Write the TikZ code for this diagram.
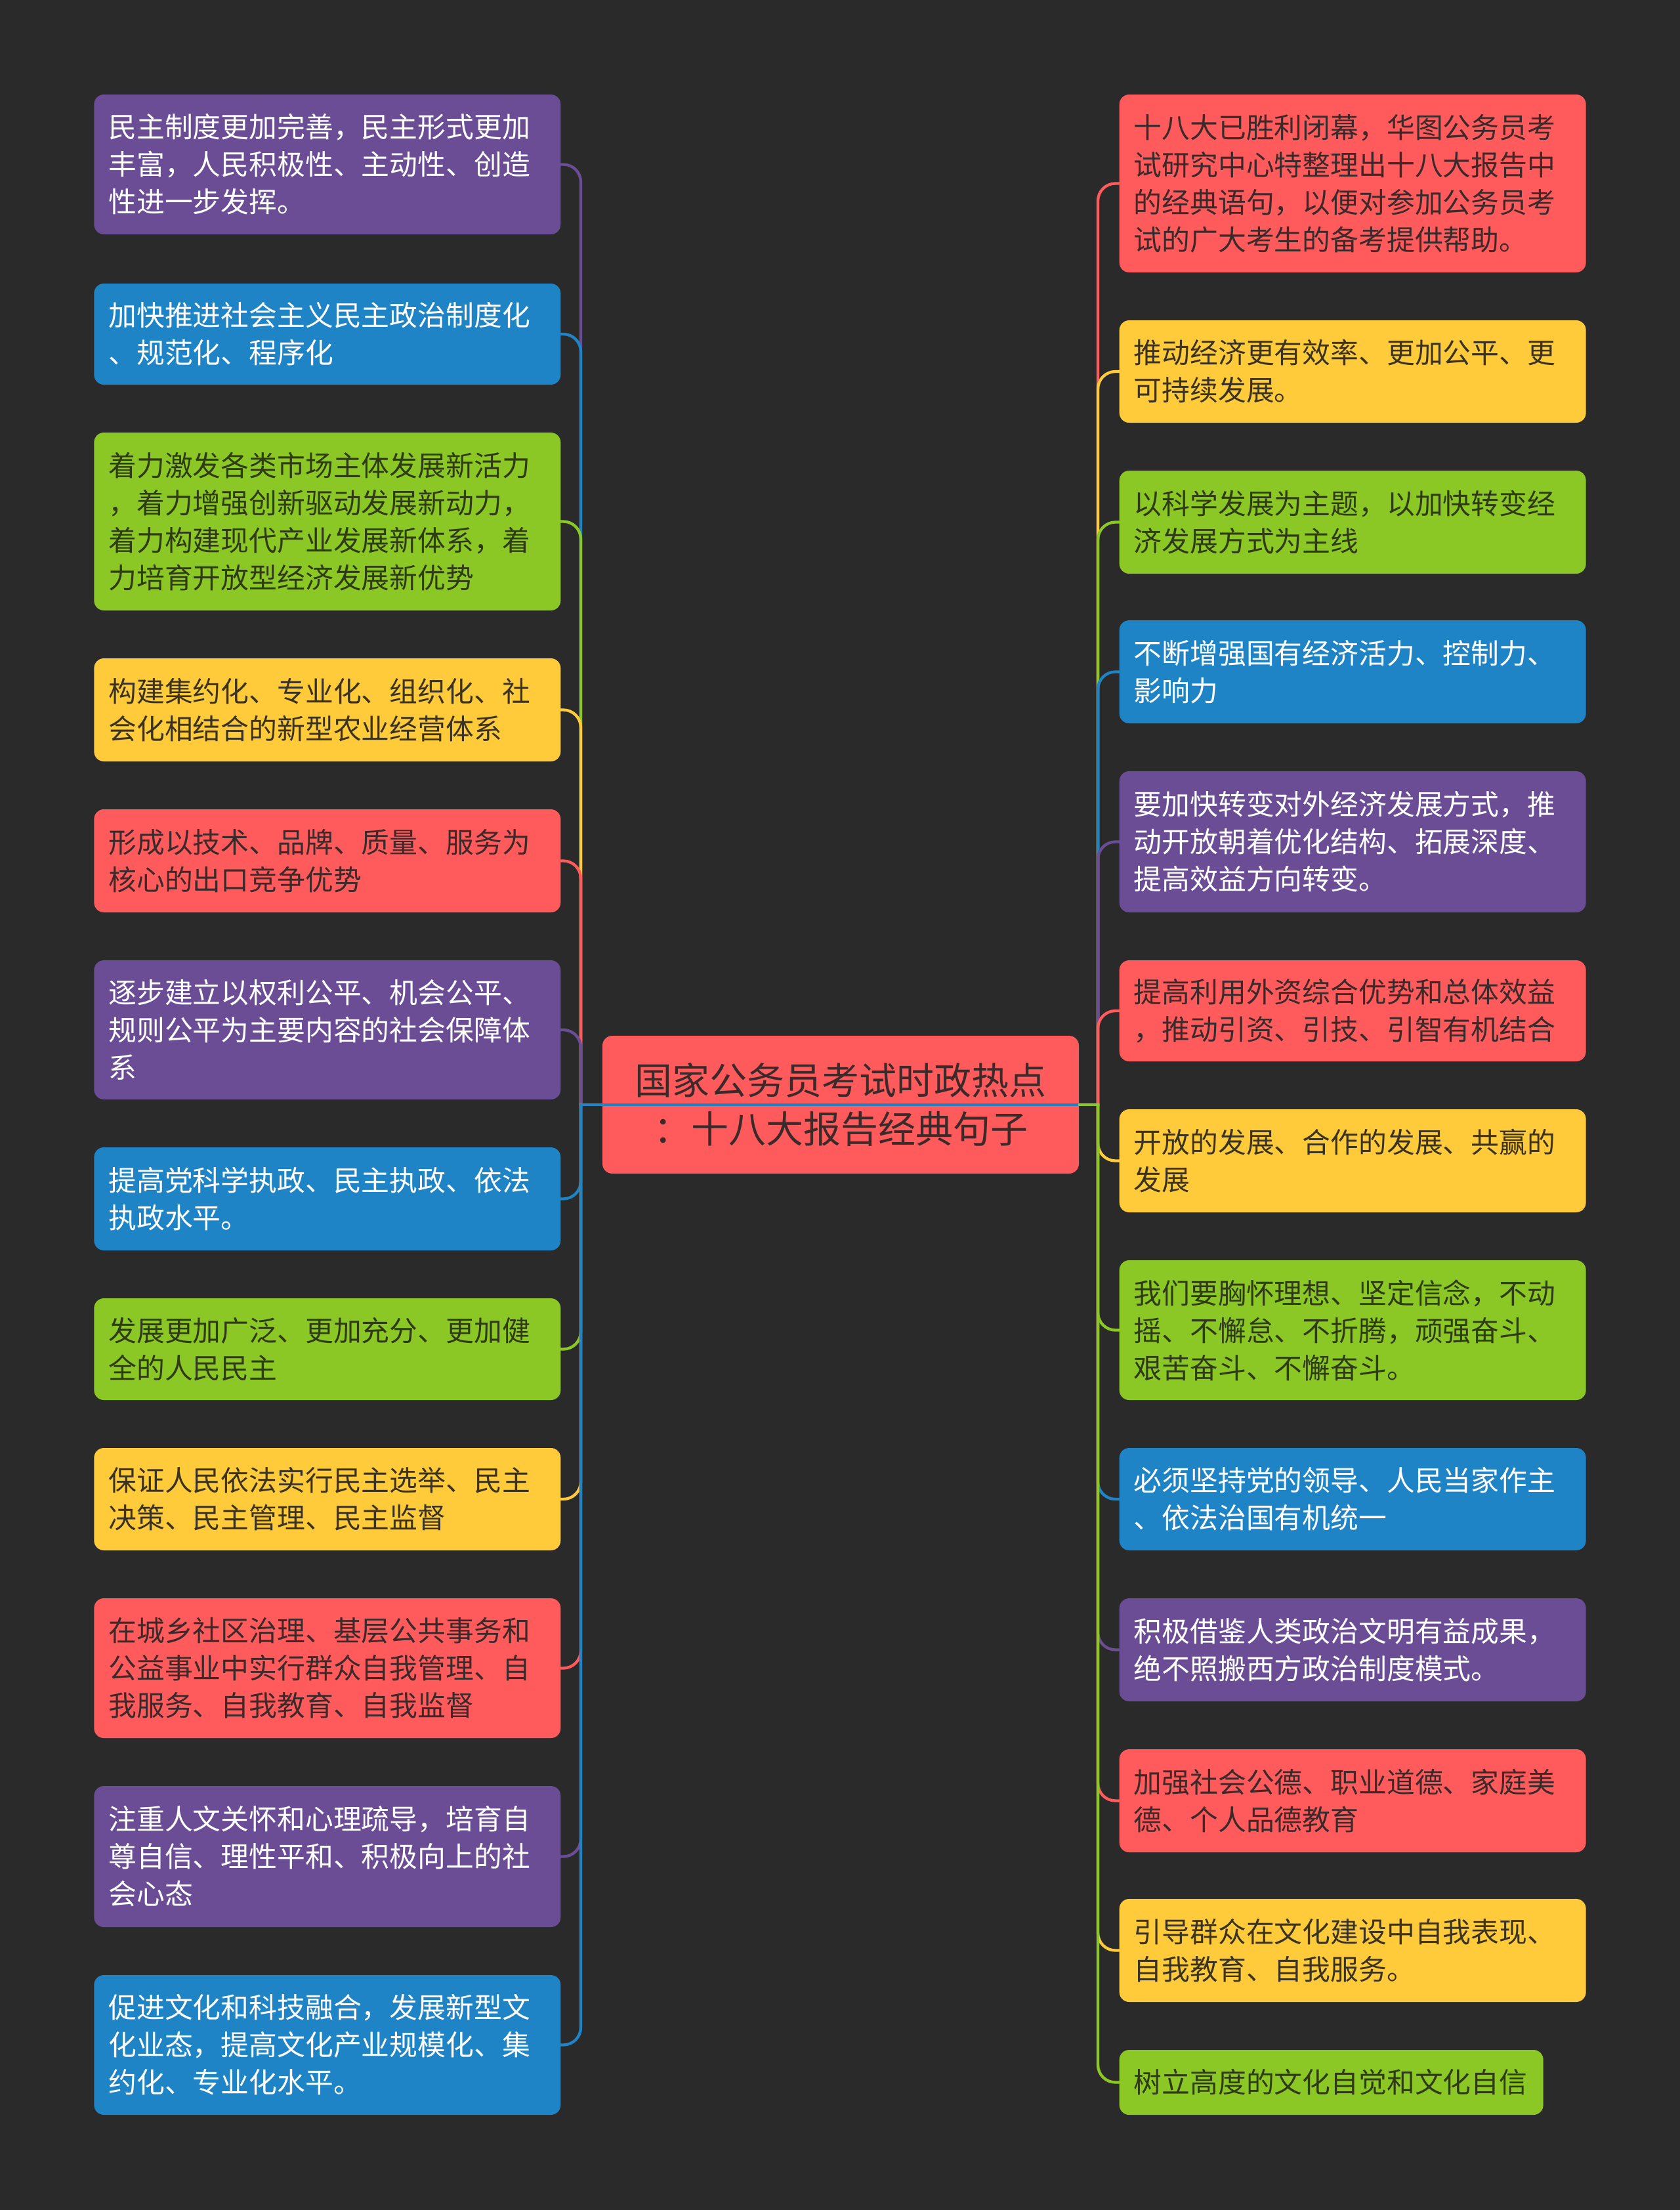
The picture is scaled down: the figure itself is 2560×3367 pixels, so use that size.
\documentclass[tikz,border=0pt]{standalone}
\usepackage{fontspec}
\newfontfamily\cjk{Noto Sans CJK SC}
\definecolor{bgc}{HTML}{2A2A2A}
\definecolor{cP}{HTML}{6B4D96}
\definecolor{cB}{HTML}{1E84C6}
\definecolor{cG}{HTML}{8BC826}
\definecolor{cY}{HTML}{FFCB3B}
\definecolor{cR}{HTML}{FF5A5C}
\definecolor{cPt}{HTML}{FFFFFF}
\definecolor{cBt}{HTML}{FFFFFF}
\definecolor{cGt}{HTML}{2E3B14}
\definecolor{cYt}{HTML}{3B3322}
\definecolor{cRt}{HTML}{3B2A2A}
\newcommand\leftleaf[5]{%
  \node[leaf, fill=#2, text=#2t, anchor=east, minimum height={(#4-#3)*0.3pt}] (#1) at (855,{(#3+#4)/2}) {#5};}
\newcommand\rightleaf[5]{%
  \node[leaf, fill=#2, text=#2t, anchor=west, minimum height={(#4-#3)*0.3pt}] (#1) at (1705,{(#3+#4)/2}) {#5};}
\newcommand\lconn[2]{%
  \draw[conn, draw=#2] (C.east) -- (LT);
  \draw[conn, draw=#2, rounded corners=8pt] (LT) -- (LT |- #1.east) -- (#1.east);}
\newcommand\rconn[2]{%
  \draw[conn, draw=#2] (C.east) -- (RT);
  \draw[conn, draw=#2, rounded corners=8pt] (RT) -- (RT |- #1.west) -- (#1.west);}
\begin{document}
\begin{tikzpicture}[x=0.3pt,y=-0.3pt,
  leaf/.style={rounded corners=4.5pt, inner xsep=6.6pt, inner ysep=0pt,
    text width=200.1pt, align=left,
    font=\cjk\fontsize{12.85pt}{17.1pt}\selectfont},
  conn/.style={line width=1.3pt, line cap=rect},
  hub/.style={rounded corners=4.5pt, fill=cR, text=cRt, inner sep=0pt,
    minimum width=217.8pt, minimum height=63pt, align=center,
    font=\cjk\fontsize{17.1pt}{22pt}\selectfont}]
\fill[bgc] (0,0) rectangle (2560,3367);
\node[hub] (C) at (1281,1683) {国家公务员考试时政热点\\：十八大报告经典句子};
\coordinate (LT) at (885,1683);
\coordinate (RT) at (1673,1683);
% left
\leftleaf{L1}{cP}{144}{357}{民主制度更加完善，民主形式更加\\丰富，人民积极性、主动性、创造\\性进一步发挥。}
\leftleaf{L2}{cB}{432}{586}{加快推进社会主义民主政治制度化\\、规范化、程序化}
\leftleaf{L3}{cG}{659}{930}{着力激发各类市场主体发展新活力\\，着力增强创新驱动发展新动力，\\着力构建现代产业发展新体系，着\\力培育开放型经济发展新优势}
\leftleaf{L4}{cY}{1003}{1160}{构建集约化、专业化、组织化、社\\会化相结合的新型农业经营体系}
\leftleaf{L5}{cR}{1233}{1390}{形成以技术、品牌、质量、服务为\\核心的出口竞争优势}
\leftleaf{L6}{cP}{1463}{1675}{逐步建立以权利公平、机会公平、\\规则公平为主要内容的社会保障体\\系}
\leftleaf{L7}{cB}{1748}{1905}{提高党科学执政、民主执政、依法\\执政水平。}
\leftleaf{L8}{cG}{1978}{2133}{发展更加广泛、更加充分、更加健\\全的人民民主}
\leftleaf{L9}{cY}{2206}{2362}{保证人民依法实行民主选举、民主\\决策、民主管理、民主监督}
\leftleaf{L10}{cR}{2435}{2648}{在城乡社区治理、基层公共事务和\\公益事业中实行群众自我管理、自\\我服务、自我教育、自我监督}
\leftleaf{L11}{cP}{2721}{2936}{注重人文关怀和心理疏导，培育自\\尊自信、理性平和、积极向上的社\\会心态}
\leftleaf{L12}{cB}{3009}{3222}{促进文化和科技融合，发展新型文\\化业态，提高文化产业规模化、集\\约化、专业化水平。}
% right
\rightleaf{R1}{cR}{144}{415}{十八大已胜利闭幕，华图公务员考\\试研究中心特整理出十八大报告中\\的经典语句，以便对参加公务员考\\试的广大考生的备考提供帮助。}
\rightleaf{R2}{cY}{488}{644}{推动经济更有效率、更加公平、更\\可持续发展。}
\rightleaf{R3}{cG}{717}{874}{以科学发展为主题，以加快转变经\\济发展方式为主线}
\rightleaf{R4}{cB}{945}{1102}{不断增强国有经济活力、控制力、\\影响力}
\rightleaf{R5}{cP}{1175}{1390}{要加快转变对外经济发展方式，推\\动开放朝着优化结构、拓展深度、\\提高效益方向转变。}
\rightleaf{R6}{cR}{1463}{1617}{提高利用外资综合优势和总体效益\\，推动引资、引技、引智有机结合}
\rightleaf{R7}{cY}{1690}{1847}{开放的发展、合作的发展、共赢的\\发展}
\rightleaf{R8}{cG}{1920}{2133}{我们要胸怀理想、坚定信念，不动\\摇、不懈怠、不折腾，顽强奋斗、\\艰苦奋斗、不懈奋斗。}
\rightleaf{R9}{cB}{2206}{2362}{必须坚持党的领导、人民当家作主\\、依法治国有机统一}
\rightleaf{R10}{cP}{2435}{2592}{积极借鉴人类政治文明有益成果，\\绝不照搬西方政治制度模式。}
\rightleaf{R11}{cR}{2665}{2822}{加强社会公德、职业道德、家庭美\\德、个人品德教育}
\rightleaf{R12}{cY}{2893}{3050}{引导群众在文化建设中自我表现、\\自我教育、自我服务。}
\node[leaf, text width=180.6pt, fill=cG, text=cGt, anchor=west, minimum height=29.7pt] (R13) at (1705,3172.5) {树立高度的文化自觉和文化自信};
% connectors
\lconn{L1}{cP}\lconn{L2}{cB}\lconn{L3}{cG}\lconn{L4}{cY}\lconn{L5}{cR}\lconn{L6}{cP}
\lconn{L7}{cB}\lconn{L8}{cG}\lconn{L9}{cY}\lconn{L10}{cR}\lconn{L11}{cP}\lconn{L12}{cB}
\rconn{R1}{cR}\rconn{R2}{cY}\rconn{R3}{cG}\rconn{R4}{cB}\rconn{R5}{cP}\rconn{R6}{cR}
\rconn{R7}{cY}\rconn{R8}{cG}\rconn{R9}{cB}\rconn{R10}{cP}\rconn{R11}{cR}\rconn{R12}{cY}\rconn{R13}{cG}
\end{tikzpicture}
\end{document}
